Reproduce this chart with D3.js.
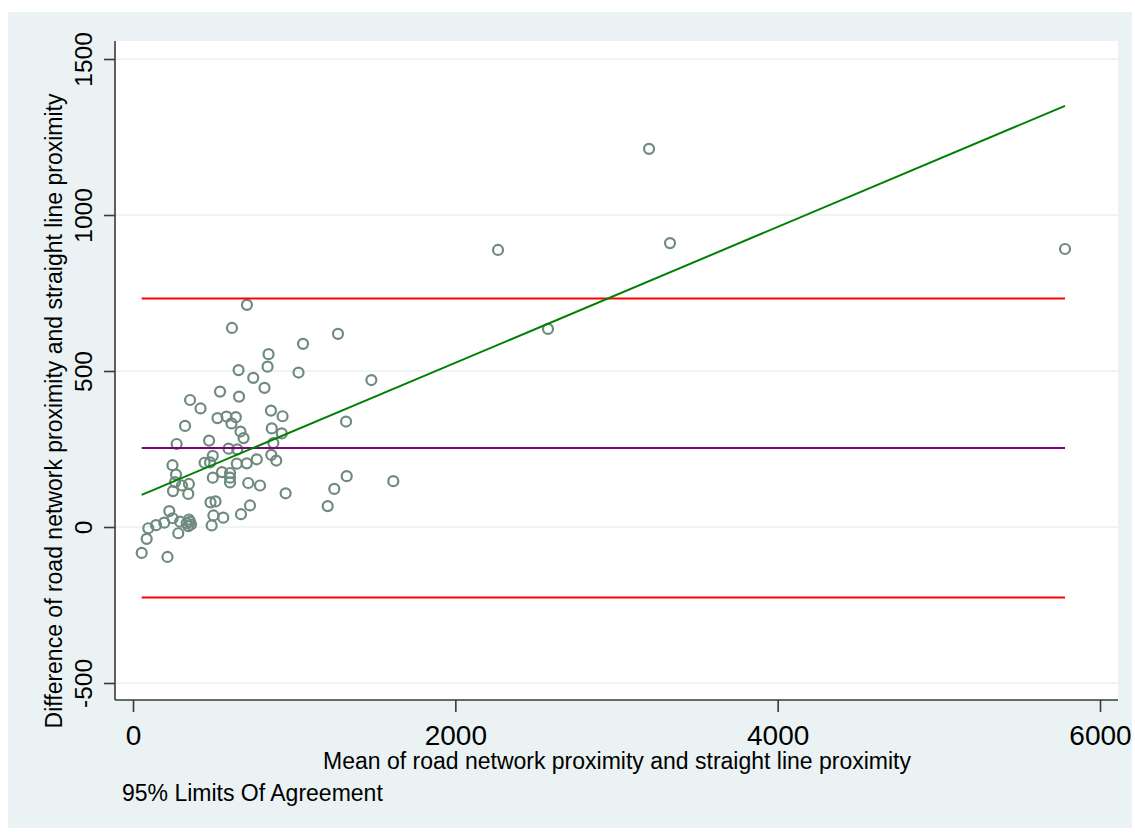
<!DOCTYPE html>
<html>
<head>
<meta charset="utf-8">
<script src="https://cdn.jsdelivr.net/npm/d3@7"></script>
<style>
  html, body { margin: 0; padding: 0; background: #ffffff; }
  svg { display: block; }
  text { font-family: Arial, "Liberation Sans", sans-serif; fill: #000; }
</style>
</head>
<body>
<svg id="chart" width="1135" height="832"></svg>
<script>
// Bland-Altman data: mean of the two proximity measures vs their difference
const meanVals = [
  707, 614, 1272, 1055, 841, 835, 655, 1027, 746, 1479,
  816, 354, 540, 658, 419, 524, 580, 638, 611, 856,
  928, 667, 686, 861, 923, 1322, 323, 472, 593, 647,
  871, 495, 444, 478, 644, 706, 768, 858, 889, 552,
  602, 602, 602, 495, 715, 788, 1326, 1615, 1249, 947,
  481, 512, 726, 1208, 670, 560, 499, 488, 271, 245,
  267, 261, 304, 347, 248, 343, 225, 246, 292, 333,
  354, 343, 360, 347, 194, 143, 95, 85, 54, 214,
  281, 3202, 2265, 3332, 5783, 2575
];
const diffVals = [
  712, 638, 619, 587, 554, 514, 503, 495, 478, 471,
  446, 407, 434, 418, 380, 349, 354, 352, 332, 373,
  355, 306, 285, 316, 300, 338, 324, 277, 251, 249,
  269, 228, 206, 207, 203, 204, 217, 231, 213, 176,
  173, 158, 143, 158, 141, 133, 163, 147, 122, 108,
  79, 82, 69, 67, 41, 30, 37, 5, 266, 198,
  168, 144, 133, 138, 115, 106, 51, 28, 17, 12,
  17, 3, 8, 24, 14, 6, -4, -38, -83, -96,
  -20, 1212, 888, 910, 891, 635
];

// Limits of agreement and mean difference
const loaMean = 253;
const loaUpper = 732;
const loaLower = -226;

// Linear fit of difference on mean
const fitIntercept = 91;
const fitSlope = 0.2177;

const xTicks = [0, 2000, 4000, 6000];
const yTicks = [-500, 0, 500, 1000, 1500];

const xTitle = "Mean of road network proximity and straight line proximity";
const yTitle = "Difference of road network proximity and straight line proximity";
const noteText = "95% Limits Of Agreement";

const svg = d3.select("#chart");
const fontStack = "Arial, 'Liberation Sans', sans-serif";

// graph region and plot region
svg.append("rect").attr("x", 8).attr("y", 12).attr("width", 1124).attr("height", 816)
  .attr("fill", "#eaf2f3");
const plot = { left: 115, top: 41, right: 1118, bottom: 700 };
svg.append("rect").attr("x", plot.left).attr("y", plot.top)
  .attr("width", plot.right - plot.left).attr("height", plot.bottom - plot.top)
  .attr("fill", "#ffffff");

const x = d3.scaleLinear().domain([0, 6000]).range([133, 1100]);
const y = d3.scaleLinear().domain([-500, 1500]).range([683, 59]);

// horizontal grid lines
svg.append("g").selectAll("line").data(yTicks).join("line")
  .attr("x1", plot.left).attr("x2", plot.right)
  .attr("y1", d => y(d)).attr("y2", d => y(d))
  .attr("stroke", "#eaf2f3").attr("stroke-width", 1.6);

// y axis
const yAxis = svg.append("g").attr("transform", `translate(${plot.left},0)`)
  .call(d3.axisLeft(y).tickValues(yTicks).tickSize(11).tickPadding(0).tickFormat(d => String(d)));
yAxis.select(".domain").attr("d", `M0,${plot.top}V${plot.bottom}`)
  .attr("stroke", "#3a3a3a").attr("stroke-width", 1.6);
yAxis.selectAll(".tick line").attr("stroke", "#3a3a3a").attr("stroke-width", 1.6);
yAxis.selectAll(".tick text")
  .attr("x", null).attr("dy", null)
  .attr("transform", "translate(-23,0) rotate(-90)")
  .attr("text-anchor", "middle")
  .attr("font-size", 24.5)
  .style("font-family", fontStack)
  .attr("fill", "#000");

// x axis
const xAxis = svg.append("g").attr("transform", `translate(0,${plot.bottom})`)
  .call(d3.axisBottom(x).tickValues(xTicks).tickSize(12).tickPadding(0).tickFormat(d => String(d)));
xAxis.select(".domain").attr("d", `M${plot.left},0H${plot.right}`)
  .attr("stroke", "#3a3a3a").attr("stroke-width", 1.6);
xAxis.selectAll(".tick line").attr("stroke", "#3a3a3a").attr("stroke-width", 1.6);
xAxis.selectAll(".tick text")
  .attr("y", 45).attr("dy", null)
  .attr("font-size", 28)
  .style("font-family", fontStack)
  .attr("fill", "#000");

// scatter of differences
const pts = meanVals.map((m, i) => ({ m, d: diffVals[i] }));
svg.append("g").selectAll("circle").data(pts).join("circle")
  .attr("cx", d => x(d.m)).attr("cy", d => y(d.d)).attr("r", 5)
  .attr("fill", "none").attr("stroke", "#6f8a7e").attr("stroke-width", 2.2);

// reference lines across the range of means
const xMin = d3.min(meanVals), xMax = d3.max(meanVals);
const refLines = [
  { v: loaUpper, c: "#ff0000" },
  { v: loaLower, c: "#ff0000" },
  { v: loaMean, c: "#800080" }
];
svg.append("g").selectAll("line").data(refLines).join("line")
  .attr("x1", x(xMin)).attr("x2", x(xMax))
  .attr("y1", d => y(d.v)).attr("y2", d => y(d.v))
  .attr("stroke", d => d.c).attr("stroke-width", 2);

// fitted line
svg.append("line")
  .attr("x1", x(xMin)).attr("y1", y(fitIntercept + fitSlope * xMin))
  .attr("x2", x(xMax)).attr("y2", y(fitIntercept + fitSlope * xMax))
  .attr("stroke", "#008000").attr("stroke-width", 2);

// titles
svg.append("text").attr("x", 617).attr("y", 769).attr("text-anchor", "middle")
  .attr("font-size", 23).text(xTitle);
svg.append("text").attr("transform", "translate(62,411) rotate(-90)")
  .attr("text-anchor", "middle").attr("font-size", 23).text(yTitle);
svg.append("text").attr("x", 122).attr("y", 801).attr("font-size", 23).text(noteText);
</script>
</body>
</html>
